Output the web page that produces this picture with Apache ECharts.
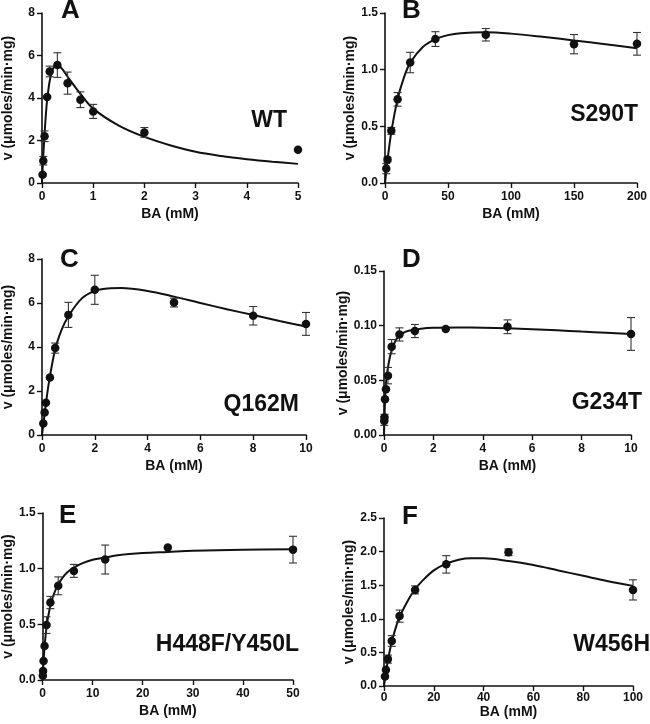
<!DOCTYPE html>
<html>
<head>
<meta charset="utf-8">
<script src="https://cdn.jsdelivr.net/npm/echarts@6/dist/echarts.min.js"></script>
<style>
html,body{margin:0;padding:0;background:#fff;}
#chart{width:650px;height:724px;}
</style>
</head>
<body>
<div id="chart"></div>
<script>
// ---------- Data ----------
// Panel A: WT
const A_x   = [0.0125, 0.025, 0.05, 0.1, 0.15, 0.3, 0.5, 0.75, 1, 2, 5];
const A_y   = [0.39, 1.05, 2.2, 4.05, 5.25, 5.55, 4.7, 3.92, 3.37, 2.38, 1.57];
const A_err = [0.05, 0.2, 0.25, 0.05, 0.25, 0.58, 0.52, 0.37, 0.33, 0.23, 0];
const A_cx  = [0, 0.0125, 0.025, 0.05, 0.075, 0.1, 0.15, 0.2, 0.25, 0.3, 0.4, 0.5, 0.75, 1, 1.5, 2, 2.5, 3, 3.5, 4, 4.5, 5];
const A_cy  = [0, 0.7, 1.3, 2.3, 3.2, 3.9, 4.8, 5.3, 5.5, 5.55, 5.35, 5.0, 4.2, 3.5, 2.7, 2.17, 1.78, 1.47, 1.27, 1.12, 1.0, 0.9];

// Panel B: S290T
const B_x   = [1, 2, 5, 10, 20, 40, 80, 150, 200];
const B_y   = [0.127, 0.207, 0.46, 0.738, 1.063, 1.27, 1.308, 1.225, 1.228];
const B_err = [0.045, 0.02, 0.03, 0.06, 0.09, 0.065, 0.055, 0.085, 0.1];
const B_cx  = [0, 1, 2, 5, 10, 15, 20, 30, 40, 50, 60, 80, 100, 125, 150, 175, 200];
const B_cy  = [0, 0.1, 0.2, 0.45, 0.74, 0.93, 1.06, 1.2, 1.27, 1.305, 1.322, 1.33, 1.318, 1.29, 1.258, 1.225, 1.19];

// Panel C: Q162M
const C_x   = [0.05, 0.1, 0.15, 0.3, 0.5, 1, 2, 5, 8, 10];
const C_y   = [0.52, 1.02, 1.47, 2.61, 3.95, 5.46, 6.6, 6.02, 5.42, 5.05];
const C_err = [0, 0, 0, 0, 0.23, 0.57, 0.66, 0.2, 0.42, 0.52];
const C_cx  = [0, 0.1, 0.25, 0.5, 0.75, 1, 1.5, 2, 2.5, 3, 4, 5, 6, 7, 8, 9, 10];
const C_cy  = [0, 0.95, 2.3, 3.9, 4.8, 5.4, 6.2, 6.55, 6.66, 6.68, 6.55, 6.29, 6.0, 5.72, 5.45, 5.18, 4.93];

// Panel D: G234T
const D_x   = [0.01, 0.02, 0.04, 0.08, 0.16, 0.31, 0.625, 1.25, 2.5, 5, 10];
const D_y   = [0.0128, 0.0159, 0.0326, 0.0418, 0.0543, 0.0808, 0.092, 0.0951, 0.097, 0.099, 0.0924];
const D_err = [0.004, 0.003, 0, 0, 0.0075, 0.0065, 0.006, 0.006, 0, 0.0063, 0.015];
const D_cx  = [0, 0.02, 0.05, 0.1, 0.2, 0.3, 0.5, 0.75, 1, 1.5, 2, 3, 4, 5, 6, 7, 8, 9, 10];
const D_cy  = [0, 0.016, 0.035, 0.052, 0.067, 0.0765, 0.0875, 0.093, 0.0953, 0.0972, 0.098, 0.0983, 0.0982, 0.0977, 0.0968, 0.0958, 0.0946, 0.0935, 0.0924];

// Panel E: H448F/Y450L
const E_x   = [0.05, 0.1, 0.2, 0.4, 0.78, 1.56, 3.125, 6.25, 12.5, 25, 50];
const E_y   = [0.039, 0.081, 0.17, 0.305, 0.493, 0.696, 0.846, 0.98, 1.082, 1.19, 1.171];
const E_err = [0, 0, 0, 0, 0.075, 0.055, 0.08, 0.058, 0.13, 0, 0.12];
const E_cx  = [0, 0.2, 0.5, 0.78, 1, 1.56, 2, 3, 4, 5, 6.25, 8, 10, 12.5, 15, 20, 25, 30, 40, 50];
const E_cy  = [0, 0.18, 0.35, 0.47, 0.54, 0.67, 0.74, 0.85, 0.92, 0.97, 1.01, 1.05, 1.08, 1.1, 1.12, 1.14, 1.15, 1.16, 1.17, 1.175];

// Panel F: W456H
const F_x   = [0.4, 0.78, 1.56, 3.125, 6.25, 12.5, 25, 50, 100];
const F_y   = [0.14, 0.24, 0.4, 0.67, 1.04, 1.43, 1.81, 1.99, 1.43];
const F_err = [0, 0, 0.06, 0.08, 0.09, 0.06, 0.13, 0.05, 0.15];
const F_cx  = [0, 1.56, 3.125, 5, 6.25, 10, 12.5, 15, 20, 25, 30, 35, 40, 50, 60, 70, 80, 90, 100];
const F_cy  = [0, 0.38, 0.66, 0.9, 1.03, 1.3, 1.44, 1.55, 1.72, 1.82, 1.88, 1.9, 1.9, 1.86, 1.8, 1.72, 1.64, 1.56, 1.49];

// Axis settings (ticks)
const xMax = [5, 200, 10, 10, 50, 100];
const xInt = [1, 50, 2, 2, 10, 20];
const yMax = [8, 1.5, 8, 0.15, 1.5, 2.5];
const yInt = [2, 0.5, 2, 0.05, 0.5, 0.5];
const yDec = [0, 1, 0, 2, 1, 1];

const panelLetters = ['A', 'B', 'C', 'D', 'E', 'F'];
const variantNames = ['WT', 'S290T', 'Q162M', 'G234T', 'H448F/Y450L', 'W456H'];
const xName = 'BA (mM)';
const yName = 'v (\u03bcmoles/min\u00b7mg)';

// ---------- Layout ----------
const grids = [
  {left: 42,  top: 13,  width: 256, height: 170},
  {left: 385, top: 13,  width: 254, height: 170},
  {left: 42,  top: 259, width: 264, height: 176},
  {left: 384, top: 271, width: 247, height: 164},
  {left: 42,  top: 513, width: 251, height: 167},
  {left: 384, top: 518, width: 249, height: 168}
];
const letterPos = [[61, 11], [402, 11], [60, 260], [402, 260], [59, 516], [402, 517]];
const namePos = [[287, 121], [638, 115], [299, 405], [642, 403], [299, 645], [650, 645]];
const yNameGap = [27, 28, 27, 28, 27, 28];
const xNameGap = [24, 24, 24, 24, 24, 19];
const xLabelMargin = [8, 8, 8, 8, 8, 6];

const panels = [
  [A_x, A_y, A_err, A_cx, A_cy],
  [B_x, B_y, B_err, B_cx, B_cy],
  [C_x, C_y, C_err, C_cx, C_cy],
  [D_x, D_y, D_err, D_cx, D_cy],
  [E_x, E_y, E_err, E_cx, E_cy],
  [F_x, F_y, F_err, F_cx, F_cy]
];

const FONT = "'Liberation Sans', Arial, Helvetica, sans-serif";
const INK = '#111';

const option = {
  backgroundColor: '#fff',
  animation: false,
  grid: grids.map(g => Object.assign({containLabel: false}, g)),
  xAxis: [], yAxis: [], series: [], graphic: []
};

panels.forEach((p, i) => {
  option.xAxis.push({
    type: 'value', gridIndex: i, min: 0, max: xMax[i], interval: xInt[i],
    name: xName, nameLocation: 'middle', nameGap: xNameGap[i],
    nameTextStyle: {fontFamily: FONT, fontWeight: 'bold', fontSize: 14, color: INK},
    axisLine: {show: true, onZero: false, lineStyle: {color: INK, width: 1.6}},
    axisTick: {show: true, inside: false, length: 5, lineStyle: {color: INK, width: 1.4}},
    axisLabel: {margin: xLabelMargin[i], fontFamily: FONT, fontWeight: 'bold', fontSize: 12, color: INK},
    splitLine: {show: false}
  });
  option.yAxis.push({
    type: 'value', gridIndex: i, min: 0, max: yMax[i], interval: yInt[i],
    name: yName, nameLocation: 'middle', nameGap: yNameGap[i],
    nameTextStyle: {fontFamily: FONT, fontWeight: 'bold', fontSize: 14, color: INK},
    axisLine: {show: true, onZero: false, lineStyle: {color: INK, width: 1.6}},
    axisTick: {show: true, inside: false, length: 5, lineStyle: {color: INK, width: 1.4}},
    axisLabel: {margin: 7, fontFamily: FONT, fontWeight: 'bold', fontSize: 12, color: INK,
      formatter: v => Number(v).toFixed(yDec[i])},
    splitLine: {show: false}
  });
  const [xs, ys, es, cx, cy] = p;
  // fitted curve
  option.series.push({
    type: 'line', xAxisIndex: i, yAxisIndex: i,
    data: cx.map((x, k) => [x, cy[k]]),
    smooth: 0.35, showSymbol: false, symbol: 'none',
    lineStyle: {color: INK, width: 2}, z: 2
  });
  // error bars
  option.series.push({
    type: 'custom', xAxisIndex: i, yAxisIndex: i,
    data: xs.map((x, k) => [x, ys[k] - es[k], ys[k] + es[k]]).filter((d, k) => es[k] > 0),
    renderItem: function (params, api) {
      const x = api.value(0);
      const lo = api.coord([x, api.value(1)]);
      const hi = api.coord([x, api.value(2)]);
      const hw = 4;
      const st = {stroke: '#333', lineWidth: 1.1};
      return {type: 'group', children: [
        {type: 'line', shape: {x1: lo[0], y1: lo[1], x2: hi[0], y2: hi[1]}, style: st},
        {type: 'line', shape: {x1: lo[0] - hw, y1: lo[1], x2: lo[0] + hw, y2: lo[1]}, style: st},
        {type: 'line', shape: {x1: hi[0] - hw, y1: hi[1], x2: hi[0] + hw, y2: hi[1]}, style: st}
      ]};
    },
    z: 3, silent: true
  });
  // points
  option.series.push({
    type: 'scatter', xAxisIndex: i, yAxisIndex: i,
    data: xs.map((x, k) => [x, ys[k]]),
    symbol: 'circle', symbolSize: 8.5,
    itemStyle: {color: INK, opacity: 1}, z: 4
  });
  option.graphic.push({
    type: 'text', x: letterPos[i][0], y: letterPos[i][1],
    style: {text: panelLetters[i], font: 'bold 26px ' + FONT, fill: INK,
      align: 'left', verticalAlign: 'middle', textAlign: 'left', textVerticalAlign: 'middle'}
  });
  option.graphic.push({
    type: 'text', x: namePos[i][0], y: namePos[i][1],
    style: {text: variantNames[i], font: 'bold 23px ' + FONT, fill: INK,
      align: 'right', verticalAlign: 'middle', textAlign: 'right', textVerticalAlign: 'middle'}
  });
});

const chart = echarts.init(document.getElementById('chart'), null, {renderer: 'canvas'});
chart.setOption(option);
</script>
</body>
</html>
